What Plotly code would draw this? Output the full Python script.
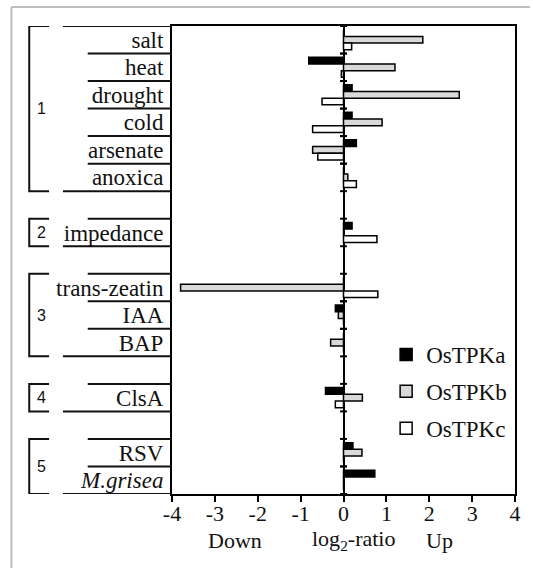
import plotly.graph_objects as go

# ---------------- data ----------------
categories = ["salt", "heat", "drought", "cold", "arsenate", "anoxica",
              "impedance",
              "trans-zeatin", "IAA", "BAP",
              "ClsA",
              "RSV", "<i>M.grisea</i>"]
groups = [1, 1, 1, 1, 1, 1, 2, 3, 3, 3, 4, 5, 5]
OsTPKa = [0, -0.81, 0.2, 0.2, 0.3, 0, 0.2, 0, -0.19, 0, -0.42, 0.22, 0.73]
OsTPKb = [1.85, 1.2, 2.7, 0.9, -0.72, 0.1, 0, -3.8, -0.12, -0.3, 0.44, 0.43, 0]
OsTPKc = [0.19, -0.05, -0.5, -0.72, -0.6, 0.3, 0.78, 0.8, 0, 0, -0.19, 0, 0]
x_tick_vals = [-4, -3, -2, -1, 0, 1, 2, 3, 4]
x_tick_labels = ["-4", "-3", "-2", "-1", "0", "1", "2", "3", "4"]

# ---------------- layout helpers ----------------
W, H = 533, 568
L, R, T, B = 172, 15, 26, 74
PW, PH = W - L - R, H - T - B
SERIF = "Liberation Serif, Times New Roman, serif"
SANS = "Liberation Sans, Arial, sans-serif"


def px_x(p):
    return (p - L) / PW


def px_y(p):
    return (H - B - p) / PH


# y positions: one empty slot between groups
pos = [i + (g - 1) for i, g in enumerate(groups)]

fig = go.Figure()
series = [("OsTPKa", OsTPKa, "#000000"),
          ("OsTPKb", OsTPKb, "#d9d9d9"),
          ("OsTPKc", OsTPKc, "#ffffff")]
for k, (name, vals, col) in enumerate(series):
    fig.add_trace(go.Bar(
        x=vals, y=pos, orientation="h", name=name,
        marker=dict(color=col, line=dict(color="black", width=1.5)),
        legendgroup=name,
    ))

shapes = []
LINE = dict(color="#111", width=2)

# category separator lines and zero-axis ticks
for gi in sorted(set(groups)):
    idx = [i for i, g in enumerate(groups) if g == gi]
    top = pos[idx[0]] - 0.5
    bot = pos[idx[-1]] + 0.5
    x_top = px_x(62) if gi == 1 else px_x(87)
    shapes.append(dict(type="line", xref="paper", yref="y", x0=x_top, x1=0,
                       y0=top, y1=top, line=LINE))
    for i in idx[:-1]:
        b = pos[i] + 0.5
        shapes.append(dict(type="line", xref="paper", yref="y", x0=px_x(87), x1=0,
                           y0=b, y1=b, line=LINE))
    shapes.append(dict(type="line", xref="paper", yref="y", x0=px_x(62), x1=0,
                       y0=bot, y1=bot, line=LINE))
    # bracket
    shapes.append(dict(type="path", xref="paper", yref="y",
                       path=f"M {px_x(48)},{top} L {px_x(28)},{top} L {px_x(28)},{bot} L {px_x(48)},{bot}",
                       line=LINE))
    # zero-axis ticks
    for i in idx:
        for yy in (pos[i] - 0.5, pos[i] + 0.5):
            shapes.append(dict(type="line", xref="x", yref="y", x0=-0.08, x1=0.08,
                               y0=yy, y1=yy, line=dict(color="black", width=2)))

# outer light-gray frame (top and left)
shapes.append(dict(type="line", xref="paper", yref="paper", x0=px_x(10), x1=px_x(533),
                   y0=px_y(7), y1=px_y(7), line=dict(color="#bdbdbd", width=2)))
shapes.append(dict(type="line", xref="paper", yref="paper", x0=px_x(10), x1=px_x(10),
                   y0=px_y(7), y1=px_y(568), line=dict(color="#bdbdbd", width=2)))

annotations = []
for gi in sorted(set(groups)):
    idx = [i for i, g in enumerate(groups) if g == gi]
    mid = (pos[idx[0]] + pos[idx[-1]]) / 2
    annotations.append(dict(xref="paper", yref="y", x=px_x(40), y=mid, text=str(gi),
                            xanchor="center", yanchor="middle",
                            showarrow=False, font=dict(family=SANS, size=16, color="#111")))

for txt, xv in (("Down", -2.52), ("log<sub>2</sub>-ratio", 0.23), ("Up", 2.25)):
    annotations.append(dict(xref="x", yref="paper", x=xv, y=px_y(540), text=txt,
                            showarrow=False, xanchor="center", yanchor="middle",
                            font=dict(family=SERIF, size=22, color="#111")))

fig.update_layout(
    width=W, height=H,
    margin=dict(l=L, r=R, t=T, b=B, pad=0),
    paper_bgcolor="white", plot_bgcolor="white",
    barmode="group", bargap=0.27, bargroupgap=0,
    showlegend=True,
    legend=dict(x=px_x(388), y=px_y(333), xanchor="left", yanchor="top",
                font=dict(family=SERIF, size=23, color="#111"),
                bgcolor="rgba(0,0,0,0)", tracegroupgap=4,
                traceorder="grouped"),
    xaxis=dict(range=[-4, 4], tickvals=x_tick_vals, ticktext=x_tick_labels,
               showgrid=False, zeroline=True, zerolinecolor="black", zerolinewidth=2,
               showline=True, linecolor="black", linewidth=2, mirror=True,
               ticks="outside", ticklen=6, tickwidth=2, tickcolor="black",
               ticklabelstandoff=-7,
               tickfont=dict(family=SERIF, size=22, color="#111")),
    yaxis=dict(range=[max(pos) + 0.5, -0.5], tickvals=pos, ticktext=categories,
               showgrid=False, zeroline=False,
               showline=True, linecolor="black", linewidth=2, mirror=True,
               ticks="", ticklabelstandoff=2,
               tickfont=dict(family=SERIF, size=23, color="#111")),
    shapes=shapes, annotations=annotations,
)

fig.write_html("out.html",
               config={"displayModeBar": False},
               post_script="document.body.style.margin='0';document.body.style.overflow='hidden';")
